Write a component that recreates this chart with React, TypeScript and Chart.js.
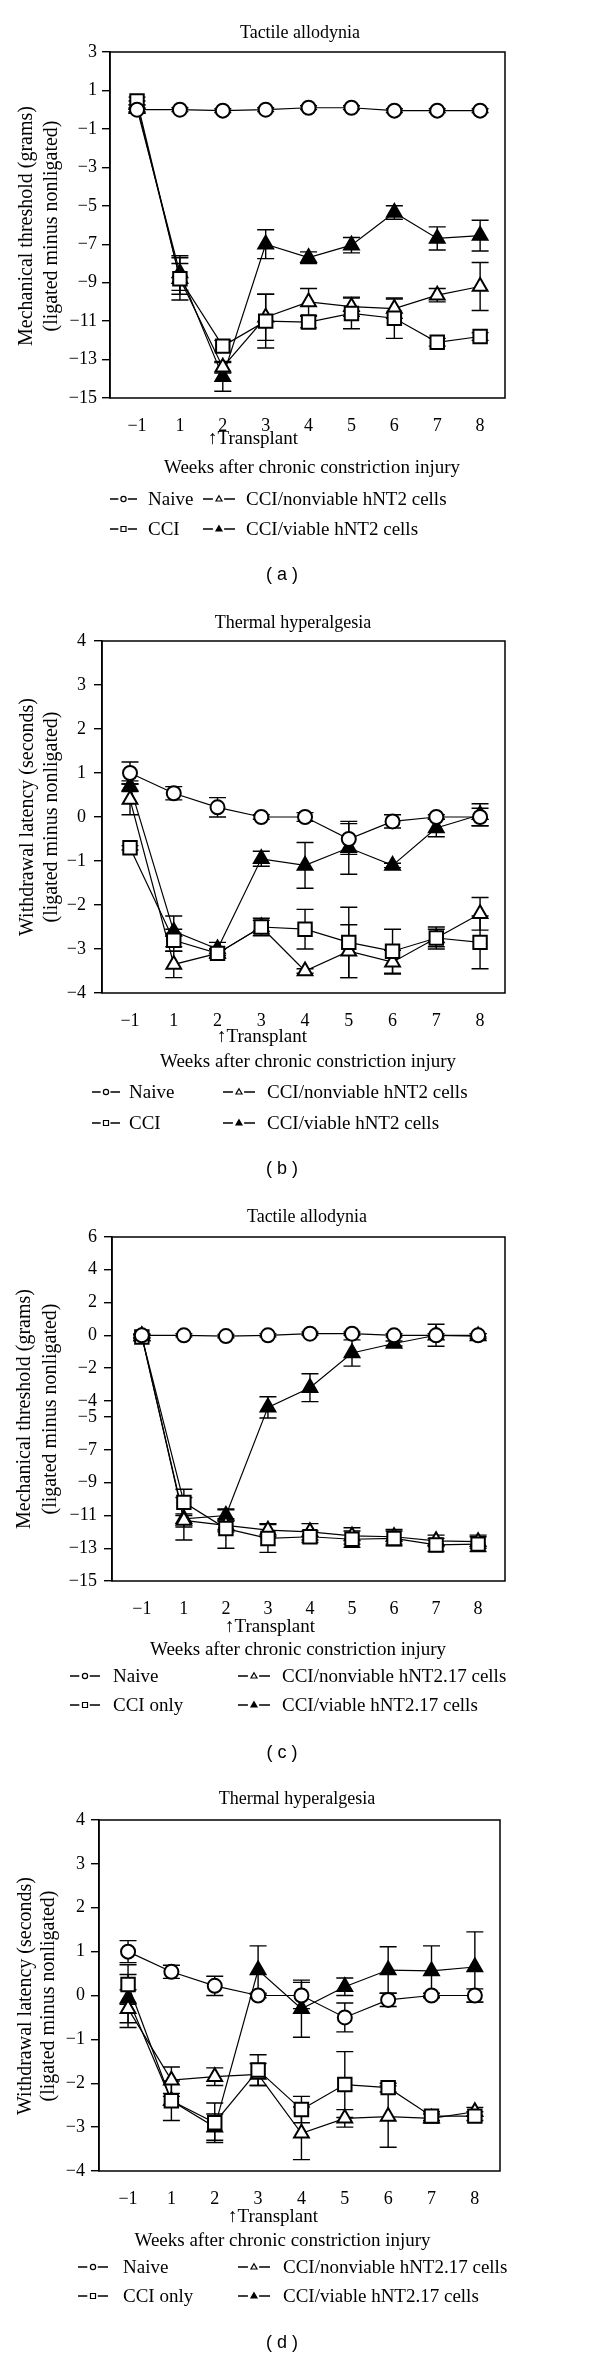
import React, { useEffect, useRef } from 'react';
import { Chart, registerables } from 'chart.js';

Chart.register(...registerables);

// ---------- shared ----------
const weekLabels = ['−1', '1', '2', '3', '4', '5', '6', '7', '8'];
const weekIndex = [0, 1, 2, 3, 4, 5, 6, 7, 8];

// ---------- panel (a): tactile allodynia, hNT2 ----------
const aNaive = [0, 0, -0.05, 0, 0.1, 0.1, -0.05, -0.05, -0.05];
const aNaiveErr = [0.1, 0.1, 0.1, 0.1, 0.1, 0.1, 0.1, 0.1, 0.1];
const aCCI = [0.45, -8.8, -12.3, -11.0, -11.05, -10.6, -10.85, -12.1, -11.8];
const aCCIErr = [0.2, 1.1, 0.3, 1.4, 0.3, 0.8, 1.05, 0.2, 0.2];
const aNonviable = [0.25, -8.8, -13.4, -10.8, -10.0, -10.25, -10.35, -9.65, -9.2];
const aNonviableErr = [0.2, 0.8, 0.3, 1.2, 0.7, 0.5, 0.5, 0.35, 1.25];
const aViable = [0.05, -8.5, -13.9, -7.0, -7.7, -7.05, -5.35, -6.7, -6.55];
const aViableErr = [0.2, 0.9, 0.75, 0.75, 0.3, 0.4, 0.35, 0.6, 0.8];
const aYTicks = [3, 1, -1, -3, -5, -7, -9, -11, -13, -15];

// ---------- panel (b): thermal hyperalgesia, hNT2 ----------
const bNaive = [1.0, 0.54, 0.22, 0, 0, -0.5, -0.1, 0, 0];
const bNaiveErr = [0.25, 0.15, 0.22, 0.05, 0.1, 0.35, 0.15, 0.05, 0.2];
const bCCI = [-0.7, -2.8, -3.1, -2.5, -2.55, -2.85, -3.05, -2.75, -2.85];
const bCCIErr = [0.05, 0.25, 0.1, 0.2, 0.45, 0.8, 0.5, 0.25, 0.6];
const bNonviable = [0.4, -3.35, -3.1, -2.5, -3.5, -3.05, -3.3, -2.75, -2.2];
const bNonviableErr = [0.35, 0.3, 0.1, 0.15, 0.05, 0.6, 0.27, 0.2, 0.37];
const bViable = [0.7, -2.6, -3.0, -0.95, -1.1, -0.7, -1.1, -0.25, 0.05];
const bViableErr = [0.12, 0.35, 0.15, 0.17, 0.52, 0.6, 0.05, 0.2, 0.25];
const bYTicks = [4, 3, 2, 1, 0, -1, -2, -3, -4];

// ---------- panel (c): tactile allodynia, hNT2.17 ----------
const cNaive = [0, 0, -0.05, 0, 0.1, 0.1, 0, 0, 0];
const cNaiveErr = [0.1, 0.1, 0.1, 0.1, 0.1, 0.1, 0.1, 0.1, 0.1];
const cCCI = [-0.1, -10.2, -11.8, -12.4, -12.3, -12.45, -12.4, -12.8, -12.75];
const cCCIErr = [0.1, 0.8, 1.2, 0.85, 0.35, 0.5, 0.45, 0.4, 0.45];
const cNonviable = [-0.05, -11.3, -11.6, -11.9, -12.0, -12.25, -12.3, -12.55, -12.6];
const cNonviableErr = [0.1, 0.4, 0.4, 0.4, 0.5, 0.5, 0.45, 0.35, 0.4];
const cViable = [-0.05, -11.2, -11.0, -4.4, -3.2, -1.08, -0.5, 0.0, -0.05];
const cViableErr = [0.1, 1.3, 0.35, 0.65, 0.85, 0.8, 0.15, 0.67, 0.15];
const cYTicks = [6, 4, 2, 0, -2, -4, -5, -7, -9, -11, -13, -15];

// ---------- panel (d): thermal hyperalgesia, hNT2.17 ----------
const dNaive = [1.0, 0.54, 0.22, 0, 0, -0.5, -0.1, 0, 0];
const dNaiveErr = [0.25, 0.15, 0.22, 0.05, 0.3, 0.33, 0.15, 0.05, 0.15];
const dCCI = [0.25, -2.4, -2.9, -1.7, -2.6, -2.03, -2.1, -2.75, -2.75];
const dCCIErr = [0.45, 0.45, 0.45, 0.35, 0.3, 0.75, 0.1, 0.1, 0.1];
const dNonviable = [-0.3, -1.93, -1.85, -1.8, -3.14, -2.8, -2.76, -2.8, -2.65];
const dNonviableErr = [0.43, 0.3, 0.2, 0.25, 0.6, 0.2, 0.7, 0.1, 0.1];
const dViable = [-0.07, -2.4, -3.0, 0.58, -0.3, 0.2, 0.58, 0.56, 0.65];
const dViableErr = [0.55, 0.1, 0.3, 0.55, 0.65, 0.2, 0.53, 0.57, 0.8];
const dYTicks = [4, 3, 2, 1, 0, -1, -2, -3, -4];

// ---------- texts ----------
const tactileTitle = 'Tactile allodynia';
const thermalTitle = 'Thermal hyperalgesia';
const tactileYTitle = ['Mechanical threshold (grams)', '(ligated minus nonligated)'];
const thermalYTitle = ['Withdrawal latency (seconds)', '(ligated minus nonligated)'];
const xTitle = 'Weeks after chronic constriction injury';
const transplantLabel = '↑Transplant';
const legendAB = ['Naive', 'CCI', 'CCI/nonviable hNT2 cells', 'CCI/viable hNT2 cells'];
const legendCD = ['Naive', 'CCI only', 'CCI/nonviable hNT2.17 cells', 'CCI/viable hNT2.17 cells'];

const SERIF = '"Liberation Serif", "DejaVu Serif", "Times New Roman", serif';
const SANS = '"Liberation Sans", Arial, sans-serif';
const Y_AXIS_W = 60;
const X_AXIS_H = 40;

type Panel = {
  top: number;
  height: number;
  area: { l: number; t: number; r: number; b: number };
  xMin: number;
  xMax: number;
  yMin: number;
  yMax: number;
  yTicks: number[];
  yPad: number;
  title: string;
  titleX: number;
  titleY: number;
  yTitle: string[];
  yTitleX: [number, number];
  yTitleCY: number;
  transX: number;
  transY: number;
  xTitleX: number;
  xTitleY: number;
  legend: string[];
  legendRows: [number, number];
  legLeft: { sx: number; w: number; tx: number };
  legRight: { sx: number; w: number; tx: number };
  caption: string;
  captionY: number;
  naive: number[];
  naiveErr: number[];
  cci: number[];
  cciErr: number[];
  nonviable: number[];
  nonviableErr: number[];
  viable: number[];
  viableErr: number[];
};

const panels: Panel[] = [
  {
    top: 0, height: 590,
    area: { l: 110, t: 52, r: 505, b: 398 },
    xMin: -0.63, xMax: 8.58, yMin: -15, yMax: 3, yTicks: aYTicks, yPad: 5,
    title: tactileTitle, titleX: 300, titleY: 38,
    yTitle: tactileYTitle, yTitleX: [27, 52], yTitleCY: 226,
    transX: 208, transY: 444, xTitleX: 312, xTitleY: 473,
    legend: legendAB, legendRows: [505, 535],
    legLeft: { sx: 110, w: 27, tx: 148 }, legRight: { sx: 203, w: 32, tx: 246 },
    caption: '( a )', captionY: 580,
    naive: aNaive, naiveErr: aNaiveErr, cci: aCCI, cciErr: aCCIErr,
    nonviable: aNonviable, nonviableErr: aNonviableErr, viable: aViable, viableErr: aViableErr,
  },
  {
    top: 590, height: 590,
    area: { l: 102, t: 51, r: 505, b: 403 },
    xMin: -0.64, xMax: 8.57, yMin: -4, yMax: 4, yTicks: bYTicks, yPad: 8,
    title: thermalTitle, titleX: 293, titleY: 38,
    yTitle: thermalYTitle, yTitleX: [27.5, 51.5], yTitleCY: 227,
    transX: 217, transY: 452, xTitleX: 308, xTitleY: 477,
    legend: legendAB, legendRows: [508, 539],
    legLeft: { sx: 92, w: 28, tx: 129 }, legRight: { sx: 223, w: 32, tx: 267 },
    caption: '( b )', captionY: 584,
    naive: bNaive, naiveErr: bNaiveErr, cci: bCCI, cciErr: bCCIErr,
    nonviable: bNonviable, nonviableErr: bNonviableErr, viable: bViable, viableErr: bViableErr,
  },
  {
    top: 1180, height: 590,
    area: { l: 112, t: 57, r: 505, b: 401 },
    xMin: -0.71, xMax: 8.64, yMin: -15, yMax: 6, yTicks: cYTicks, yPad: 7,
    title: tactileTitle, titleX: 307, titleY: 42,
    yTitle: tactileYTitle, yTitleX: [25, 50.5], yTitleCY: 229,
    transX: 225, transY: 452, xTitleX: 298, xTitleY: 475,
    legend: legendCD, legendRows: [502, 531],
    legLeft: { sx: 70, w: 30, tx: 113 }, legRight: { sx: 238, w: 32, tx: 282 },
    caption: '( c )', captionY: 578,
    naive: cNaive, naiveErr: cNaiveErr, cci: cCCI, cciErr: cCCIErr,
    nonviable: cNonviable, nonviableErr: cNonviableErr, viable: cViable, viableErr: cViableErr,
  },
  {
    top: 1770, height: 589,
    area: { l: 99, t: 50, r: 500, b: 401 },
    xMin: -0.67, xMax: 8.58, yMin: -4, yMax: 4, yTicks: dYTicks, yPad: 6,
    title: thermalTitle, titleX: 297, titleY: 34,
    yTitle: thermalYTitle, yTitleX: [25.5, 49], yTitleCY: 226,
    transX: 228, transY: 452, xTitleX: 282.5, xTitleY: 476,
    legend: legendCD, legendRows: [503, 532],
    legLeft: { sx: 78, w: 30, tx: 123 }, legRight: { sx: 238, w: 32, tx: 283 },
    caption: '( d )', captionY: 578,
    naive: dNaive, naiveErr: dNaiveErr, cci: dCCI, cciErr: dCCIErr,
    nonviable: dNonviable, nonviableErr: dNonviableErr, viable: dViable, viableErr: dViableErr,
  },
];

const fmtNum = (v: number) => (v < 0 ? '−' + Math.abs(v) : String(v));

function drawLegendMarker(ctx: CanvasRenderingContext2D, kind: string, x: number, y: number) {
  ctx.beginPath();
  if (kind === 'circle') {
    ctx.arc(x, y, 2.6, 0, Math.PI * 2);
    ctx.fillStyle = '#fff';
    ctx.fill();
    ctx.stroke();
  } else if (kind === 'rect') {
    ctx.rect(x - 2.5, y - 2.5, 5, 5);
    ctx.fillStyle = '#fff';
    ctx.fill();
    ctx.stroke();
  } else {
    ctx.moveTo(x, y - 3.2);
    ctx.lineTo(x + 3, y + 2);
    ctx.lineTo(x - 3, y + 2);
    ctx.closePath();
    ctx.fillStyle = kind === 'triFilled' ? '#000' : '#fff';
    ctx.fill();
    ctx.stroke();
  }
}

function makePlugin(p: Panel) {
  return {
    id: 'panelDeco',
    beforeDatasetsDraw(chart: any) {
      const ctx: CanvasRenderingContext2D = chart.ctx;
      const ys = chart.scales.y;
      ctx.save();
      ctx.strokeStyle = '#000';
      ctx.lineWidth = 1.4;
      const cap = 8.5;
      chart.data.datasets.forEach((ds: any, di: number) => {
        const meta = chart.getDatasetMeta(di);
        const errs: number[] = ds.errorBars || [];
        meta.data.forEach((pt: any, i: number) => {
          const e = errs[i];
          if (!e) return;
          const v = ds.data[i].y;
          const yT = ys.getPixelForValue(v + e);
          const yB = ys.getPixelForValue(v - e);
          ctx.beginPath();
          ctx.moveTo(pt.x, yT);
          ctx.lineTo(pt.x, yB);
          ctx.moveTo(pt.x - cap, yT);
          ctx.lineTo(pt.x + cap, yT);
          ctx.moveTo(pt.x - cap, yB);
          ctx.lineTo(pt.x + cap, yB);
          ctx.stroke();
        });
      });
      ctx.restore();
    },
    afterDraw(chart: any) {
      const ctx: CanvasRenderingContext2D = chart.ctx;
      const a = chart.chartArea;
      ctx.save();
      // plot frame
      ctx.strokeStyle = '#000';
      ctx.lineWidth = 1.5;
      ctx.strokeRect(a.left, a.top, a.right - a.left, a.bottom - a.top);

      ctx.fillStyle = '#000';
      ctx.textBaseline = 'alphabetic';
      // title
      ctx.font = `18px ${SERIF}`;
      ctx.textAlign = 'center';
      ctx.fillText(p.title, p.titleX, p.titleY);

      // y title (rotated, two lines)
      ctx.font = `20px ${SERIF}`;
      ctx.textBaseline = 'middle';
      p.yTitle.forEach((line, k) => {
        ctx.save();
        ctx.translate(p.yTitleX[k], p.yTitleCY);
        ctx.rotate(-Math.PI / 2);
        ctx.textAlign = 'center';
        ctx.fillText(line, 0, 0);
        ctx.restore();
      });
      ctx.textBaseline = 'alphabetic';

      // transplant marker + x title
      ctx.font = `19px ${SERIF}`;
      ctx.textAlign = 'left';
      ctx.fillText(transplantLabel, p.transX, p.transY);
      ctx.textAlign = 'center';
      ctx.fillText(xTitle, p.xTitleX, p.xTitleY);

      // legend
      const items = [
        { col: p.legLeft, row: 0, kind: 'circle', label: p.legend[0] },
        { col: p.legLeft, row: 1, kind: 'rect', label: p.legend[1] },
        { col: p.legRight, row: 0, kind: 'tri', label: p.legend[2] },
        { col: p.legRight, row: 1, kind: 'triFilled', label: p.legend[3] },
      ];
      ctx.textAlign = 'left';
      ctx.font = `19px ${SERIF}`;
      items.forEach((it) => {
        const by = p.legendRows[it.row];
        const sy = by - 6;
        const { sx, w, tx } = it.col;
        ctx.strokeStyle = '#000';
        ctx.lineWidth = 1.6;
        ctx.beginPath();
        ctx.moveTo(sx, sy);
        ctx.lineTo(sx + w * 0.31, sy);
        ctx.moveTo(sx + w * 0.66, sy);
        ctx.lineTo(sx + w, sy);
        ctx.stroke();
        ctx.lineWidth = 1.2;
        drawLegendMarker(ctx, it.kind, sx + w * 0.5, sy);
        ctx.fillStyle = '#000';
        ctx.fillText(it.label, tx, by);
      });

      // caption
      ctx.font = `18px ${SANS}`;
      ctx.textAlign = 'center';
      ctx.fillText(p.caption, 282, p.captionY);
      ctx.restore();
    },
  };
}

function toPoints(vals: number[]) {
  return vals.map((v, i) => ({ x: weekIndex[i], y: v }));
}

function PanelChart({ p }: { p: Panel }) {
  const ref = useRef<HTMLCanvasElement | null>(null);
  useEffect(() => {
    if (!ref.current) return;
    const base = {
      borderColor: '#000',
      borderWidth: 1.2,
      pointBorderColor: '#000',
      pointBorderWidth: 2,
      tension: 0,
      fill: false,
    };
    const chart = new Chart(ref.current, {
      type: 'line',
      data: {
        datasets: [
          { ...base, label: p.legend[0], data: toPoints(p.naive), errorBars: p.naiveErr, pointStyle: 'circle', pointRadius: 7, pointBackgroundColor: '#fff' } as any,
          { ...base, label: p.legend[1], data: toPoints(p.cci), errorBars: p.cciErr, pointStyle: 'rect', pointRadius: 9.5, pointBackgroundColor: '#fff' } as any,
          { ...base, label: p.legend[2], data: toPoints(p.nonviable), errorBars: p.nonviableErr, pointStyle: 'triangle', pointRadius: 8.5, pointBackgroundColor: '#fff' } as any,
          { ...base, label: p.legend[3], data: toPoints(p.viable), errorBars: p.viableErr, pointStyle: 'triangle', pointRadius: 8.5, pointBackgroundColor: '#000' } as any,
        ],
      },
      options: {
        responsive: false,
        animation: false,
        devicePixelRatio: 1,
        layout: {
          padding: {
            left: p.area.l - Y_AXIS_W,
            top: p.area.t,
            right: 600 - p.area.r,
            bottom: p.height - p.area.b - X_AXIS_H,
          },
        },
        plugins: {
          legend: { display: false },
          title: { display: false },
          tooltip: { enabled: false },
        },
        scales: {
          x: {
            type: 'linear',
            min: p.xMin,
            max: p.xMax,
            grid: { display: false },
            border: { display: false },
            afterBuildTicks: (axis: any) => {
              axis.ticks = weekIndex.map((v) => ({ value: v }));
            },
            afterFit: (s: any) => {
              s.height = X_AXIS_H;
            },
            ticks: {
              color: '#000',
              font: { family: SERIF, size: 18 },
              padding: 9,
              maxRotation: 0,
              autoSkip: false,
              callback: (v: any) => weekLabels[Math.round(Number(v))] ?? '',
            },
          },
          y: {
            type: 'linear',
            min: p.yMin,
            max: p.yMax,
            grid: {
              drawOnChartArea: false,
              drawTicks: true,
              tickLength: 8,
              color: '#000',
              lineWidth: 1.4,
            },
            border: { display: true, color: '#000', width: 1.5 },
            afterBuildTicks: (axis: any) => {
              axis.ticks = p.yTicks.map((v) => ({ value: v }));
            },
            afterFit: (s: any) => {
              s.width = Y_AXIS_W;
            },
            ticks: {
              color: '#000',
              font: { family: SERIF, size: 18 },
              padding: p.yPad,
              autoSkip: false,
              callback: (v: any) => fmtNum(Number(v)),
            },
          },
        },
      } as any,
      plugins: [makePlugin(p)],
    });
    return () => chart.destroy();
  }, [p]);
  return (
    <canvas
      ref={ref}
      width={600}
      height={p.height}
      style={{ position: 'absolute', left: 0, top: p.top, width: 600, height: p.height, display: 'block' }}
    />
  );
}

export default function App() {
  return (
    <div style={{ position: 'absolute', left: 0, top: 0, width: 600, height: 2359, background: '#fff' }}>
      {panels.map((p, i) => (
        <PanelChart key={i} p={p} />
      ))}
    </div>
  );
}
